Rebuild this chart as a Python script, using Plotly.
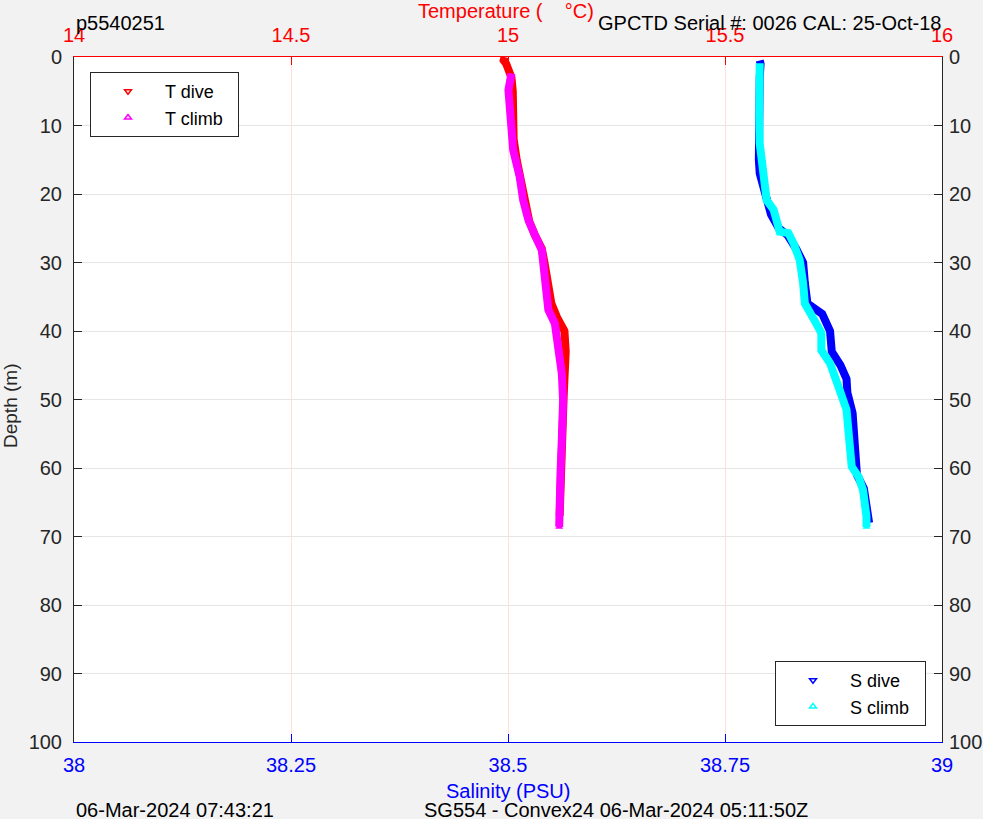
import plotly.graph_objects as go

# ---------------- data ----------------
t_dive_depth = [0, 0.5, 1, 2, 3, 5, 8, 10, 12, 15, 18, 21, 24, 26, 28, 30, 33, 36, 38, 40, 43, 45, 47, 50, 53, 56, 60, 64, 67]
t_dive = [14.992, 14.990, 14.996, 15.002, 15.008, 15.011, 15.011, 15.010, 15.013, 15.020, 15.030, 15.039, 15.049, 15.062, 15.078, 15.084, 15.091, 15.100, 15.113, 15.130, 15.133, 15.133, 15.130, 15.128, 15.127, 15.126, 15.124, 15.121, 15.119]

t_climb_depth = [68.6, 67.6, 64, 60.8, 55.9, 50.1, 46.2, 42.3, 38.9, 36.9, 34, 33, 30, 28.2, 26, 23.8, 20.9, 17.5, 13.6, 9.7, 7, 4.8, 2.4]
t_climb = [15.118, 15.118, 15.119, 15.121, 15.124, 15.127, 15.124, 15.116, 15.108, 15.093, 15.089, 15.089, 15.083, 15.078, 15.062, 15.047, 15.035, 15.027, 15.012, 15.008, 15.006, 15.001, 15.008]

s_dive_depth = [0.5, 1, 3, 8, 12, 15, 17, 19, 21, 23, 25, 26, 28, 30, 33, 36, 37.5, 40, 43, 45, 47, 49, 52, 55, 58, 61, 63, 66, 68]
s_dive = [38.790, 38.791, 38.790, 38.789, 38.789, 38.789, 38.790, 38.795, 38.798, 38.803, 38.812, 38.822, 38.832, 38.840, 38.842, 38.845, 38.862, 38.871, 38.873, 38.883, 38.890, 38.891, 38.897, 38.898, 38.899, 38.902, 38.910, 38.915, 38.916]

s_climb_depth = [68.6, 67.1, 63.2, 61.3, 59.8, 55.4, 51.5, 48.6, 44.7, 42.8, 40.3, 38.9, 36, 33, 29.6, 27.2, 25.7, 25.5, 24.3, 22.3, 20.9, 18.4, 15, 12.6, 8.7, 3.8, 0.9]
s_climb = [38.913, 38.913, 38.909, 38.904, 38.896, 38.894, 38.890, 38.882, 38.871, 38.861, 38.861, 38.855, 38.842, 38.840, 38.836, 38.829, 38.823, 38.813, 38.810, 38.806, 38.798, 38.796, 38.794, 38.790, 38.7895, 38.790, 38.790]

temp_ticks = [14, 14.5, 15, 15.5, 16]
sal_ticks = [38, 38.25, 38.5, 38.75, 39]
sal_tick_text = ["38", "38.25", "38.5", "38.75", "39"]
depth_ticks = list(range(0, 101, 10))

FONT = "Liberation Sans"
FS = 20
LFS = 18
W, H = 983, 819
L, R, T, B = 74, 41, 57, 77
PH = H - T - B

def py(ypix):
    return 1 + (T - ypix) / PH

def px(xpix):
    return (xpix - L) / (W - L - R)

fig = go.Figure()

LW = 8
# temperature traces (top axis)
fig.add_trace(go.Scatter(x=t_dive, y=t_dive_depth, xaxis="x2", yaxis="y", mode="lines",
                         line=dict(color="#ff0000", width=LW), showlegend=False, hoverinfo="skip"))
fig.add_trace(go.Scatter(x=t_climb, y=t_climb_depth, xaxis="x2", yaxis="y", mode="lines",
                         line=dict(color="#ff00ff", width=LW), showlegend=False, hoverinfo="skip"))
fig.add_trace(go.Scatter(x=t_climb[:1], y=t_climb_depth[:1], xaxis="x2", yaxis="y", mode="markers",
                         marker=dict(symbol="triangle-up", color="#ff00ff", size=7), showlegend=False))
# salinity traces (bottom axis)
fig.add_trace(go.Scatter(x=s_dive, y=s_dive_depth, xaxis="x", yaxis="y", mode="lines",
                         line=dict(color="#0000ff", width=LW), showlegend=False, hoverinfo="skip"))
fig.add_trace(go.Scatter(x=s_climb, y=s_climb_depth, xaxis="x", yaxis="y", mode="lines",
                         line=dict(color="#00ffff", width=LW), showlegend=False, hoverinfo="skip"))
fig.add_trace(go.Scatter(x=s_climb[:1], y=s_climb_depth[:1], xaxis="x", yaxis="y", mode="markers",
                         marker=dict(symbol="triangle-up", color="#00ffff", size=7), showlegend=False))

# legend entries
NB = "\u00a0\u00a0"
for name, col, sym, leg, ax in [("T dive", "#ff0000", "triangle-down-open", "legend", "x2"),
                                ("T climb" + NB, "#ff00ff", "triangle-up-open", "legend", "x2"),
                                ("S dive", "#0000ff", "triangle-down-open", "legend2", "x"),
                                ("S climb" + NB, "#00ffff", "triangle-up-open", "legend2", "x")]:
    fig.add_trace(go.Scatter(x=[None], y=[None], xaxis=ax, yaxis="y", mode="markers", name=name,
                             marker=dict(symbol=sym, color=col, size=6, line=dict(width=1.5, color=col)),
                             legend=leg))

# dummy trace so yaxis2 shows
fig.add_trace(go.Scatter(x=[None], y=[None], xaxis="x", yaxis="y2", showlegend=False))

fig.update_layout(
    width=W, height=H,
    margin=dict(l=L, r=R, t=T, b=B, autoexpand=False),
    paper_bgcolor="#f2f2f2", plot_bgcolor="white",
    font=dict(family=FONT, size=FS, color="#262626"),
    xaxis=dict(range=[38, 39], tickvals=sal_ticks, ticktext=sal_tick_text, color="#0000ff",
               showline=True, linecolor="#0000ff", linewidth=1, ticks="inside", ticklen=8,
               tickcolor="#0000ff", showgrid=False, zeroline=False, ticklabelstandoff=5,
               automargin=False, tickfont=dict(size=FS, color="#0000ff")),
    xaxis2=dict(range=[14, 16], tickvals=temp_ticks, overlaying="x", side="top", anchor="y",
                showline=True, linecolor="#ff0000", linewidth=1, ticks="inside", ticklen=8,
                tickcolor="#ff0000", showgrid=True, gridcolor="#ffdede", gridwidth=1, zeroline=False,
                ticklabelstandoff=6, automargin=False, tickfont=dict(size=FS, color="#ff0000")),
    yaxis=dict(range=[100, 0], tickvals=depth_ticks, showline=True, linecolor="#262626", linewidth=1,
               ticks="inside", ticklen=8, tickcolor="#262626", showgrid=True, gridcolor="#e6e6e6",
               zeroline=False, ticklabelstandoff=7, automargin=False, tickfont=dict(size=FS, color="#262626")),
    yaxis2=dict(range=[100, 0], tickvals=depth_ticks, overlaying="y", side="right", anchor="x",
                showline=True, linecolor="#262626", linewidth=1, ticks="inside", ticklen=8,
                tickcolor="#262626", showgrid=False, zeroline=False, ticklabelstandoff=2,
                automargin=False, tickfont=dict(size=FS, color="#262626")),
    legend=dict(x=px(90), y=py(72), xanchor="left", yanchor="top", bgcolor="white",
                bordercolor="#262626", borderwidth=1, font=dict(size=LFS, color="#000000"),
                itemwidth=64, tracegroupgap=0),
    legend2=dict(x=px(926), y=py(726), xanchor="right", yanchor="bottom", bgcolor="white",
                 bordercolor="#262626", borderwidth=1, font=dict(size=LFS, color="#000000"),
                 itemwidth=64, tracegroupgap=0),
)

ann = [
    dict(text="Temperature (    °C)", x=px(506), y=py(11), color="#ff0000", xanchor="center", size=FS, angle=0),
    dict(text="p5540251", x=px(74), y=py(23), color="#000000", xanchor="left", size=FS, angle=0),
    dict(text="GPCTD Serial #: 0026 CAL: 25-Oct-18", x=px(943), y=py(23), color="#000000", xanchor="right", size=FS, angle=0),
    dict(text="Salinity (PSU)", x=px(508), y=py(791), color="#0000ff", xanchor="center", size=FS, angle=0),
    dict(text="06-Mar-2024 07:43:21", x=px(74), y=py(810), color="#000000", xanchor="left", size=FS, angle=0),
    dict(text="SG554 - Convex24 06-Mar-2024 05:11:50Z", x=px(422), y=py(810), color="#000000", xanchor="left", size=FS, angle=0),
    dict(text="Depth (m)", x=px(10), y=py(406), color="#262626", xanchor="center", size=19, angle=-90),
]
for a in ann:
    fig.add_annotation(text=a["text"], x=a["x"], y=a["y"], xref="paper", yref="paper",
                       xanchor=a["xanchor"], yanchor="middle", showarrow=False, textangle=a["angle"],
                       font=dict(family=FONT, size=a["size"], color=a["color"]))

post = ("document.documentElement.style.margin='0';document.body.style.margin='0';"
        "document.body.style.background='#f2f2f2';document.body.style.overflow='hidden';")
fig.write_html("out.html", post_script=post, config={"displayModeBar": False})
